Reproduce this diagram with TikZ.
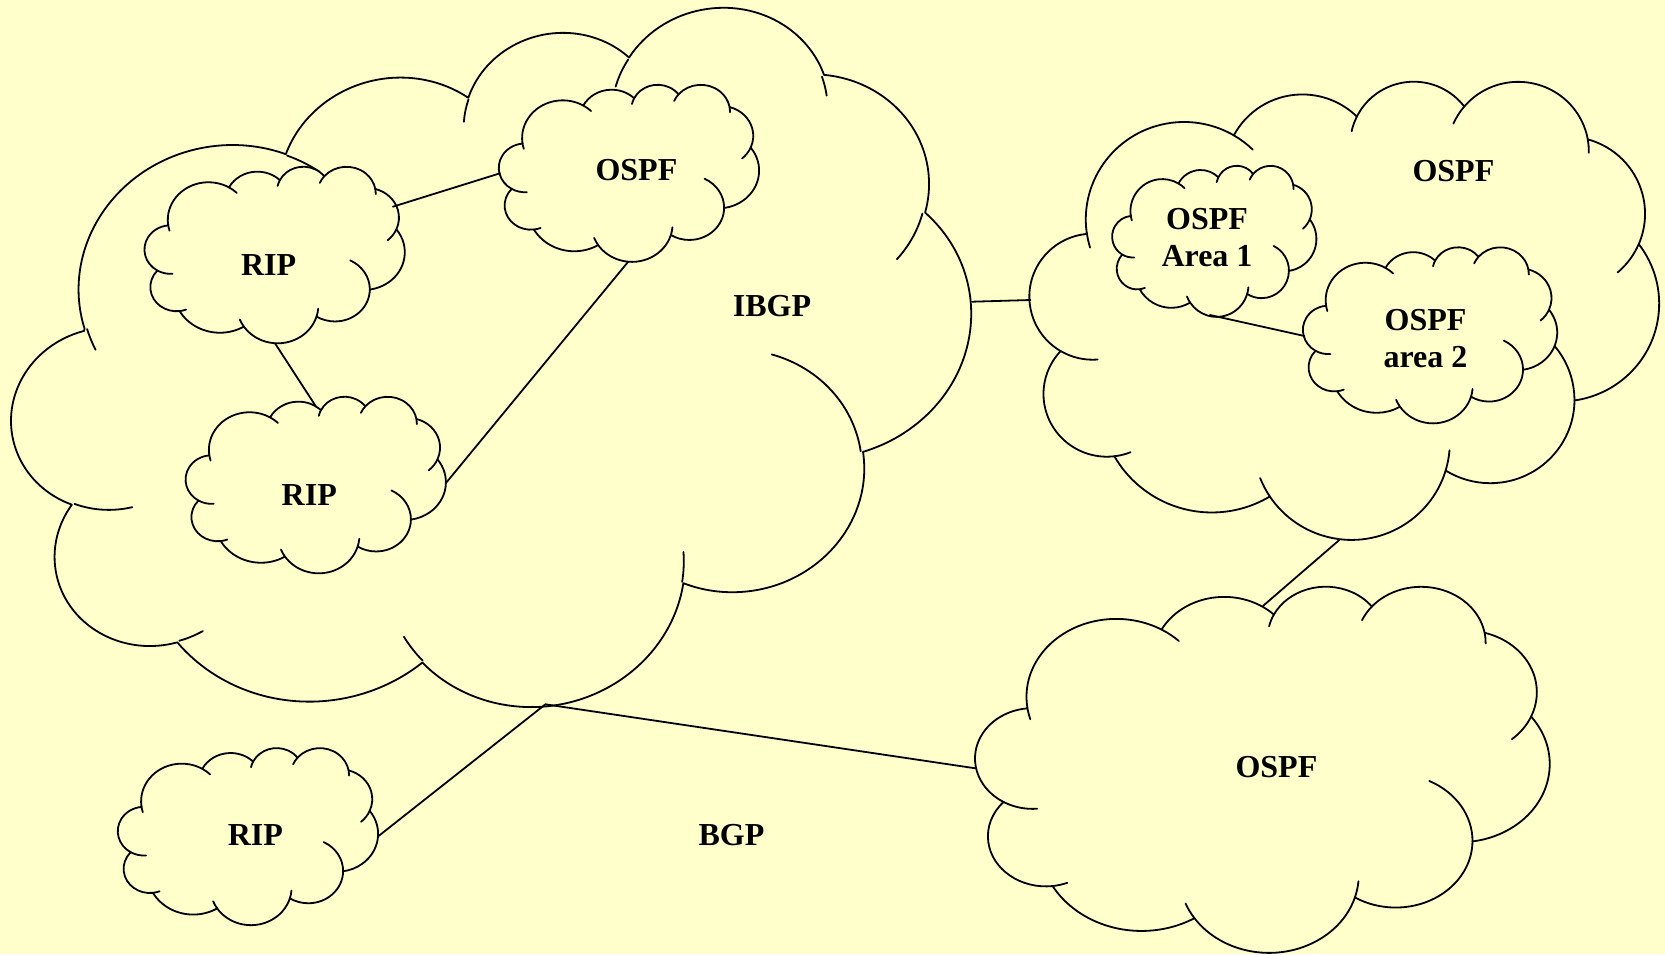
\documentclass[tikz,border=0pt]{standalone}
\usepackage{fontspec}
\setmainfont{Liberation Serif}
\definecolor{paper}{RGB}{255,255,204}
\begin{document}
\begin{tikzpicture}[x=1pt, y=-1pt, line width=1.8pt, line join=round, line cap=round,
	font=\fontsize{32}{37}\selectfont\bfseries, lbl/.style={align=center, inner sep=0pt}]
	% cloud: centre (#1,#2), size #3 x #4, turned by #5 degrees
	\def\cloud(#1,#2,#3,#4,#5){
		\begin{scope}[shift={(#1,#2)}, rotate=#5, xscale=#3/100, yscale=#4/100]
		\filldraw[fill=paper] (-40.972,-16.736) coordinate (k0)
			arc (-187.75:-59.64:15.632 and 21.273) coordinate (k1)
			arc (-152.02:-45.44:12.345 and 16.822) coordinate (k2)
			arc (-153.48:-37.32:10.104 and 13.762) coordinate (k3)
			arc (-139.69:-10.21:11.243 and 15.266) coordinate (k4)
			arc (-74.77:23.21:12.345 and 16.836) coordinate (k5)
			arc (-37.52:81.86:15.683 and 21.343) coordinate (k6)
			arc (0.46:121.98:13.391 and 18.211) coordinate (k7)
			arc (16.85:146.25:15.630 and 21.331) coordinate (k8)
			arc (58.98:150.19:17.870 and 24.405) coordinate (k9)
			arc (-276.69:-136.89:10.093 and 13.699) coordinate (k10)
			arc (-239.64:-95.89:10.058 and 13.762) -- cycle;
		\draw (k0) arc (172.25:163.19:15.632 and 21.273)
			(k1) arc (-59.64:-45.74:15.632 and 21.273)
			(k2) arc (-153.48:-167.73:10.104 and 13.762)
			(k3) arc (-139.69:-156.29:11.243 and 15.266)
			(k4) arc (-10.21:0.82:11.243 and 15.266)
			(k5) arc (23.21:49.63:12.345 and 16.836)
			(k6) arc (0.46:-64.02:13.391 and 18.211)
			(k7) arc (16.85:4.74:15.630 and 21.331)
			(k8) arc (146.25:158.47:15.630 and 21.331)
			(k9) arc (83.31:68.23:10.093 and 13.699)
			(k10) arc (120.36:85.55:10.058 and 13.762);
		\end{scope}}
	\useasboundingbox (0,0) rectangle (1665,954);
	\fill[paper] (0,0) rectangle (1665,954);
	% big clouds
	\cloud(493.1,376.5,966.6,663.9,9)
	\cloud(1344.4,309.2,629,458,0)
	\cloud(1262.5,768.5,574,366,0)
	% small clouds
	\cloud(274.7,254.4,260,176.5,0)
	\cloud(315.8,484.4,260,176.5,0)
	\cloud(629,172.7,260,177,0)
	\cloud(248,836,260,177,0)
	\cloud(1214.3,240.8,204,151,0)
	\cloud(1430.1,334.7,254,176,0)
	% labels
	\node[lbl] (ibgp) at (772,306) {IBGP};
	\node[lbl] (bgp) at (731.5,834.7) {BGP};
	\node[lbl] (ripA) at (268.6,265.3) {RIP};
	\node[lbl] (ripB) at (309.3,495.3) {RIP};
	\node[lbl] (ripC) at (255.4,834.7) {RIP};
	\node[lbl] (ospfA) at (636.4,170.5) {OSPF};
	\node[lbl] (ospfB) at (1453.4,170.8) {OSPF};
	\node[lbl] (ospfC) at (1276.4,766.7) {OSPF};
	\node[lbl] (area1) at (1207,238) {OSPF\\Area 1};
	\node[lbl] (area2) at (1425.5,338.5) {OSPF\\area 2};
	% link ends on the cloud outlines
	\coordinate (ripA-e) at (392.9,206.7);
	\coordinate (ripA-s) at (275,343.3);
	\coordinate (ripB-n) at (316.1,406.7);
	\coordinate (ripB-e) at (445.7,483.3);
	\coordinate (ripC-e) at (377.7,836.7);
	\coordinate (ospfA-w) at (500,173.3);
	\coordinate (ospfA-s) at (628.2,261.7);
	\coordinate (ibgp-e) at (972.1,301.7);
	\coordinate (ibgp-s) at (545.4,704.3);
	\coordinate (ospfB-w) at (1030.5,300);
	\coordinate (ospfB-s) at (1339.3,540);
	\coordinate (ospfC-n) at (1262.9,606);
	\coordinate (ospfC-w) at (975.4,768.3);
	\coordinate (area1-s) at (1209.9,315);
	\coordinate (area2-w) at (1304.5,336);
	\draw (ripA-e) -- (ospfA-w) (ripA-s) -- (ripB-n) (ripB-e) -- (ospfA-s);
	\draw (ibgp-e) -- (ospfB-w) (area1-s) -- (area2-w) (ospfB-s) -- (ospfC-n);
	\draw (ripC-e) -- (ibgp-s) -- (ospfC-w);
\end{tikzpicture}
\end{document}
